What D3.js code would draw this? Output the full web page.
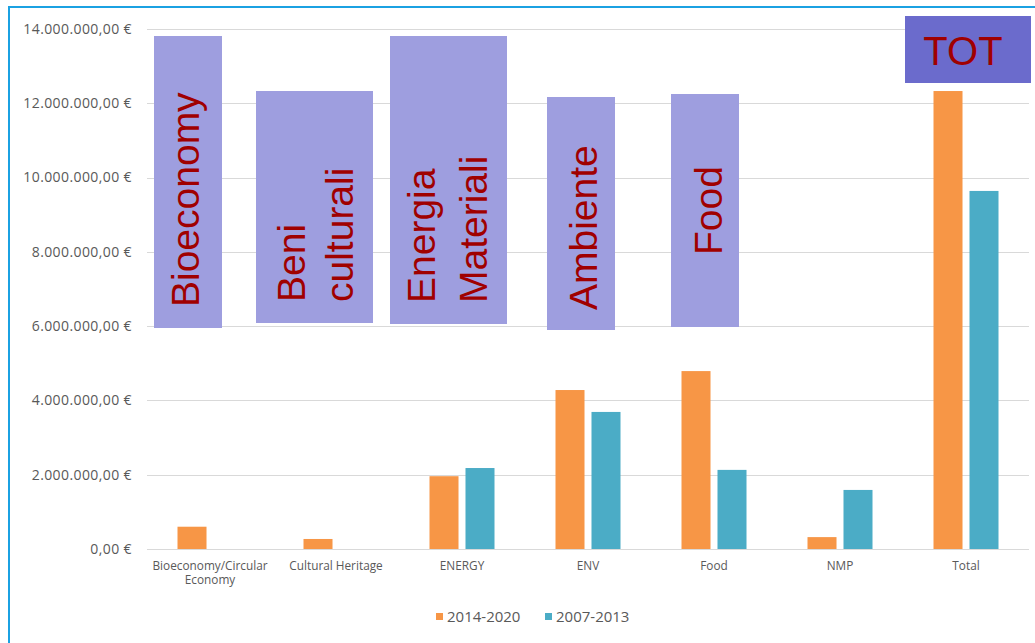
<!DOCTYPE html>
<html>
<head>
<meta charset="utf-8">
<script src="https://cdn.jsdelivr.net/npm/d3@7/dist/d3.min.js"></script>
<style>
  html, body { margin: 0; padding: 0; background: #ffffff; }
  svg { display: block; }
</style>
</head>
<body>
<svg id="chart" width="1035" height="643"></svg>
<script>
// ---- data ----
const categories = [["Bioeconomy/Circular", "Economy"], ["Cultural Heritage"], ["ENERGY"], ["ENV"], ["Food"], ["NMP"], ["Total"]];
const seriesNames = ["2014-2020", "2007-2013"];
const values2014_2020 = [600000, 270000, 1960000, 4280000, 4790000, 320000, 12330000];
const values2007_2013 = [0, 0, 2180000, 3690000, 2130000, 1590000, 9640000];
const yTicks = [0, 2000000, 4000000, 6000000, 8000000, 10000000, 12000000, 14000000];
const annotationLabels = [["Bioeconomy"], ["Beni", "culturali"], ["Energia", "Materiali"], ["Ambiente"], ["Food"]];
const totLabel = "TOT";

// ---- layout ----
const svg = d3.select("#chart");
const W = 1035, H = 643;
const plot = { left: 147, right: 1029, top: 29, bottom: 549 };
const colors = ["#F79646", "#4BACC6"];

// border (blue frame)
svg.append("line").attr("x1", 8).attr("x2", W).attr("y1", 7).attr("y2", 7)
  .attr("stroke", "#1BA1E2").attr("stroke-width", 2);
svg.append("line").attr("x1", 9).attr("x2", 9).attr("y1", 7).attr("y2", H)
  .attr("stroke", "#1BA1E2").attr("stroke-width", 2);

const catKeys = categories.map(c => c.join(" "));
const x0 = d3.scaleBand().domain(catKeys).range([plot.left, plot.right]).padding(0);
const x1 = d3.scaleBand().domain(seriesNames)
  .range([x0.bandwidth() / 2 - 32.5, x0.bandwidth() / 2 + 32.5]).paddingInner(0.194).paddingOuter(0);
const y = d3.scaleLinear().domain([0, 14000000]).range([plot.bottom, plot.top]);

// gridlines
svg.append("g").selectAll("line").data(yTicks).join("line")
  .attr("x1", plot.left).attr("x2", plot.right)
  .attr("y1", d => Math.round(y(d)) + 0.5).attr("y2", d => Math.round(y(d)) + 0.5)
  .attr("stroke", "#D9D9D9").attr("stroke-width", 1);

// y tick labels
const fmt = d => {
  const s = d3.format(",.2f")(d); // 14,000,000.00
  return s.replace(/,/g, "#").replace(".", ",").replace(/#/g, ".") + " €";
};
svg.append("g").selectAll("text").data(yTicks).join("text")
  .attr("x", 132).attr("y", d => y(d)).attr("dy", "0.35em")
  .attr("text-anchor", "end")
  .attr("font-family", "'Open Sans', 'DejaVu Sans', sans-serif")
  .attr("font-size", 14).attr("letter-spacing", 0.4).attr("fill", "#595959")
  .text(fmt);

// bars
const rows = catKeys.map((k, i) => ({ key: k, vals: [values2014_2020[i], values2007_2013[i]] }));
const groups = svg.append("g").selectAll("g").data(rows).join("g")
  .attr("transform", d => `translate(${x0(d.key)},0)`);
groups.selectAll("rect").data(d => d.vals.map((v, j) => ({ v, s: seriesNames[j], j })))
  .join("rect")
  .attr("x", d => x1(d.s)).attr("width", x1.bandwidth())
  .attr("y", d => y(d.v)).attr("height", d => plot.bottom - y(d.v))
  .attr("fill", d => colors[d.j]);

// category labels
const catG = svg.append("g").selectAll("text").data(categories).join("text")
  .attr("text-anchor", "middle")
  .attr("font-family", "'Open Sans', 'DejaVu Sans', sans-serif")
  .attr("font-size", 11.8).attr("fill", "#595959")
  .attr("transform", (d, i) => `translate(${x0(catKeys[i]) + x0.bandwidth() / 2},570)`);
catG.selectAll("tspan").data(d => d).join("tspan")
  .attr("x", 0).attr("y", (d, i) => i * 14).text(d => d);

// legend
const legend = svg.append("g");
const legendItems = [{ x: 436, name: seriesNames[0], c: colors[0] }, { x: 545, name: seriesNames[1], c: colors[1] }];
legendItems.forEach(it => {
  legend.append("rect").attr("x", it.x).attr("y", 613).attr("width", 7).attr("height", 7).attr("fill", it.c);
  legend.append("text").attr("x", it.x + 11).attr("y", 617).attr("dy", "0.35em")
    .attr("font-family", "'Open Sans', 'DejaVu Sans', sans-serif")
    .attr("font-size", 15).attr("fill", "#595959").text(it.name);
});

// annotation boxes (overlay shapes)
const boxes = [
  { x: 154, y: 36, w: 68, h: 292, lines: [199], start: 307 },
  { x: 256, y: 91, w: 117, h: 232, lines: [305, 353], start: 302 },
  { x: 390, y: 36, w: 117, h: 288, lines: [435, 487], start: 303 },
  { x: 547, y: 97, w: 68, h: 233, lines: [597], start: 310 },
  { x: 671, y: 94, w: 68, h: 233, lines: [722], start: 255 }
];
const ann = svg.append("g");
boxes.forEach((b, i) => {
  ann.append("rect").attr("x", b.x).attr("y", b.y).attr("width", b.w).attr("height", b.h).attr("fill", "#9E9EDF");
  annotationLabels[i].forEach((t, k) => {
    ann.append("text")
      .attr("transform", `translate(${b.lines[k]},${b.start}) rotate(-90)`)
      .attr("font-family", "'Liberation Sans', Arial, sans-serif")
      .attr("font-size", 39).attr("fill", "#A00000").text(t);
  });
});
ann.append("rect").attr("x", 905).attr("y", 16).attr("width", 126).attr("height", 67).attr("fill", "#6B6BCC");
ann.append("text").attr("x", 963).attr("y", 65).attr("text-anchor", "middle")
  .attr("font-family", "'Liberation Sans', Arial, sans-serif")
  .attr("font-size", 40).attr("fill", "#A00000").text(totLabel);
</script>
</body>
</html>
